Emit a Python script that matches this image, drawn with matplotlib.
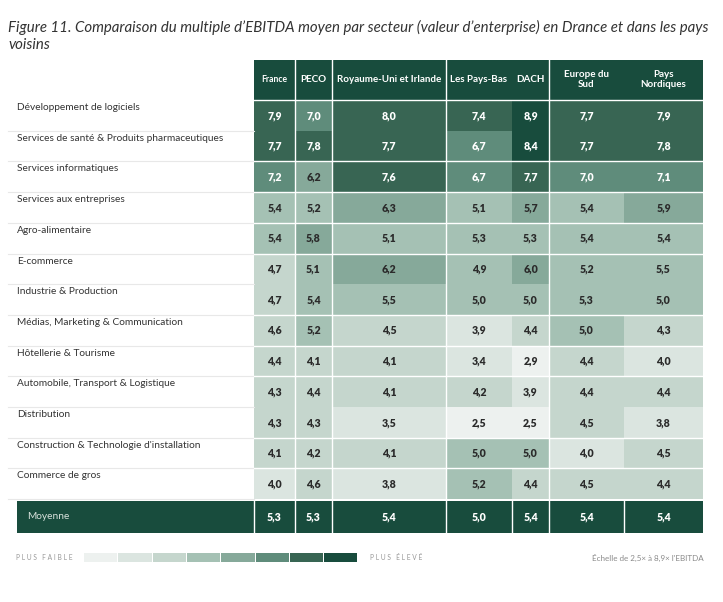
#EBITDA multiples by sector - heatmap table
import numpy as np
import matplotlib.pyplot as plt
from matplotlib.colors import ListedColormap, BoundaryNorm
from matplotlib.patches import Rectangle

plt.rcParams['font.family'] = ['Lato', 'DejaVu Sans']

# data
sectors = ["Développement de logiciels",
           "Services de santé & Produits pharmaceutiques",
           "Services informatiques",
           "Services aux entreprises",
           "Agro-alimentaire",
           "E-commerce",
           "Industrie & Production",
           "Médias, Marketing & Communication",
           "Hôtellerie & Tourisme",
           "Automobile, Transport & Logistique",
           "Distribution",
           "Construction & Technologie d'installation",
           "Commerce de gros"]
regions = ["France", "PECO", "Royaume-Uni et Irlande", "Les Pays-Bas", "DACH",
           "Europe du\nSud", "Pays\nNordiques"]
france = [7.9, 7.7, 7.2, 5.4, 5.4, 4.7, 4.7, 4.6, 4.4, 4.3, 4.3, 4.1, 4.0]
peco = [7.0, 7.8, 6.2, 5.2, 5.8, 5.1, 5.4, 5.2, 4.1, 4.4, 4.3, 4.2, 4.6]
ru_irl = [8.0, 7.7, 7.6, 6.3, 5.1, 6.2, 5.5, 4.5, 4.1, 4.1, 3.5, 4.1, 3.8]
pays_bas = [7.4, 6.7, 6.7, 5.1, 5.3, 4.9, 5.0, 3.9, 3.4, 4.2, 2.5, 5.0, 5.2]
dach = [8.9, 8.4, 7.7, 5.7, 5.3, 6.0, 5.0, 4.4, 2.9, 3.9, 2.5, 5.0, 4.4]
europe_sud = [7.7, 7.7, 7.0, 5.4, 5.4, 5.2, 5.3, 5.0, 4.4, 4.4, 4.5, 4.0, 4.5]
nordiques = [7.9, 7.8, 7.1, 5.9, 5.4, 5.5, 5.0, 4.3, 4.0, 4.4, 3.8, 4.5, 4.4]
moyenne = [5.3, 5.3, 5.4, 5.0, 5.4, 5.4, 5.4]

values = np.array([france, peco, ru_irl, pays_bas, dach, europe_sud, nordiques]).T

# colour scale, 8 steps from 2.5 to 8.9
bounds = [2.5, 3.3, 4.1, 4.9, 5.7, 6.5, 7.3, 8.1, 9.0]
colors = ['#edf1ef', '#dbe5e0', '#c5d6cd', '#a5c1b4', '#86a99a', '#5f8c7b', '#386553', '#184c3d']
cmap = ListedColormap(colors)
norm = BoundaryNorm(bounds, cmap.N)
dark = '#184c3d'

# layout in pixels
x_edges = np.array([254, 295, 332, 446, 512, 549, 624, 703])
row_h = 30.7
top = 100
y_edges = top + row_h * np.arange(len(sectors) + 1)
x_mid = (x_edges[:-1] + x_edges[1:]) / 2

fig = plt.figure(figsize=(7.23, 6.02), dpi=100)
ax = fig.add_axes([0, 0, 1, 1])
ax.set_xlim(0, 723)
ax.set_ylim(602, 0)
ax.axis('off')

# title
ax.text(8, 32, "Figure 11. Comparaison du multiple d’EBITDA moyen par secteur (valeur d’enterprise) en Drance et dans les pays",
        fontsize=10.8, style='italic', color='#333333', va='baseline')
ax.text(8, 49, "voisins", fontsize=10.8, style='italic', color='#333333', va='baseline')

# header
ax.add_patch(Rectangle((254, 60), 703 - 254, top - 60, color=dark, lw=0))
for i, r in enumerate(regions):
    ax.text(x_mid[i], 79.5, r, ha='center', va='center', color='white',
            fontsize=6.2 if r == "France" else 7.1, fontweight='bold', linespacing=1.1)

# cells
ax.pcolormesh(x_edges, y_edges, values, cmap=cmap, norm=norm, edgecolors='face', lw=0)
for r in range(len(sectors)):
    ax.text(17, y_edges[r] + 10, sectors[r], fontsize=7.3, color='#333333', va='baseline')
    ax.plot([8, 254], [y_edges[r + 1], y_edges[r + 1]], color='#e8e8e8', lw=0.8)
    for c in range(len(regions)):
        v = values[r, c]
        txt_col = 'white' if v >= 6.5 else '#2b2b2b'
        ax.text(x_mid[c], y_edges[r] + 19, f"{v:.1f}".replace('.', ','), ha='center',
                va='baseline', fontsize=7.6, fontweight='heavy', color=txt_col)

# white grid lines
for x in [295, 332, 446, 549]:
    ax.plot([x, x], [60, y_edges[-1]], color='white', lw=1)
for r in range(len(sectors)):
    if r in (1, 6, 10):
        continue
    ax.plot([254, 703], [y_edges[r], y_edges[r]], color='white', lw=1)

# Moyenne row
ax.add_patch(Rectangle((17, 501), 703 - 17, 32, color=dark, lw=0))
ax.text(27, 519, "Moyenne", fontsize=7.3, color='#d8e2dc', va='baseline')
for x in x_edges[:-1]:
    ax.plot([x, x], [501, 533], color='white', lw=1)
for c in range(len(regions)):
    ax.text(x_mid[c], 520.5, f"{moyenne[c]:.1f}".replace('.', ','), ha='center', va='baseline',
            fontsize=7.6, fontweight='heavy', color='white')

# legend
ax.text(16, 560.5, "P L U S   F A I B L E", fontsize=4.8, color='#999999', va='baseline')
for i, col in enumerate(colors):
    ax.add_patch(Rectangle((84 + i * 34.3, 553), 33.3, 9, color=col, lw=0))
ax.text(370, 560.5, "P L U S   É L E V É", fontsize=4.8, color='#999999', va='baseline')
ax.text(704, 560.5, "Échelle de 2,5× à 8,9× l'EBITDA", fontsize=5.8, color='#8a8a8a',
        ha='right', va='baseline')

plt.savefig("out.png", dpi=100)
